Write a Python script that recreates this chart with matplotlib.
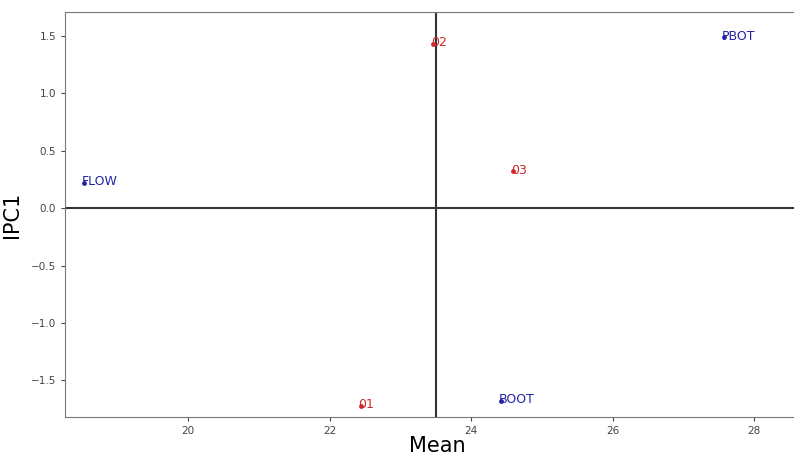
import matplotlib
matplotlib.use("Agg")
import matplotlib.pyplot as plt
import numpy as np

# group points (red) and variable points (blue)
group_labels = ["01", "02", "03"]
group_mean = [22.44, 23.46, 24.59]
group_ipc1 = [-1.72, 1.43, 0.32]

var_labels = ["FLOW", "PBOT", "BOOT"]
var_mean = [18.53, 27.57, 24.42]
var_ipc1 = [0.22, 1.49, -1.68]

RED = "#d02828"
BLUE = "#2323a8"

fig = plt.figure(figsize=(7.94, 4.55), dpi=100)
ax = fig.add_axes([65 / 794, 38 / 455, (810 - 65) / 794, (417 - 12) / 455])

ax.scatter(group_mean, group_ipc1, s=6, color=RED, zorder=3)
for lab, x, y in zip(group_labels, group_mean, group_ipc1):
    ax.text(x - 0.03, y - 0.02, lab, color=RED, fontsize=9, va="baseline", ha="left")

ax.scatter(var_mean, var_ipc1, s=6, color=BLUE, zorder=3)
for lab, x, y in zip(var_labels, var_mean, var_ipc1):
    ax.text(x - 0.03, y - 0.02, lab, color=BLUE, fontsize=9, va="baseline", ha="left")

grand_mean = np.mean(group_mean + var_mean)
ax.axvline(grand_mean, color="#333333", lw=1.5)
ax.axhline(0, color="#333333", lw=1.5)

ax.set_xlim(18.26, 28.79)
ax.set_ylim(-1.82, 1.71)
ax.set_xticks([20, 22, 24, 26, 28])
ax.set_yticks([-1.5, -1.0, -0.5, 0.0, 0.5, 1.0, 1.5])
ax.tick_params(labelsize=7.5, colors="#444444", length=3)
for sp in ax.spines.values():
    sp.set_color("#777777")
ax.spines["right"].set_visible(False)

ax.set_xlabel("Mean", fontsize=15, labelpad=0)
ax.set_ylabel("IPC1", fontsize=15, labelpad=6)

fig.savefig("out.png", dpi=100)
